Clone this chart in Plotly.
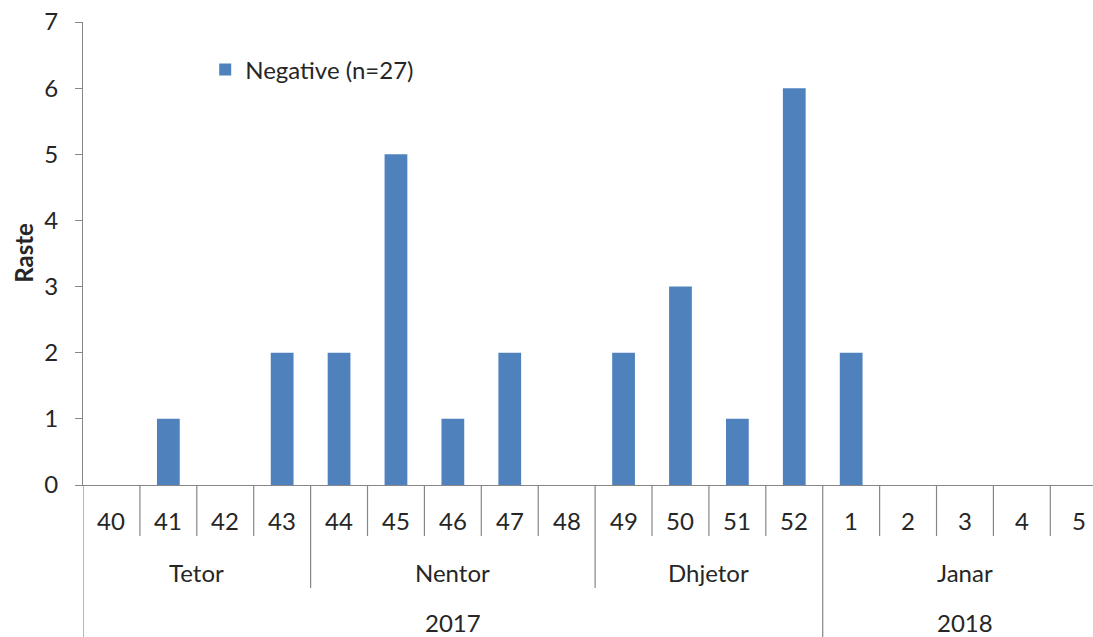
import plotly.graph_objects as go

# ---- data ----
weeks = ["40", "41", "42", "43", "44", "45", "46", "47", "48",
         "49", "50", "51", "52", "1", "2", "3", "4", "5"]
negative = [0, 1, 0, 2, 2, 5, 1, 2, 0, 2, 3, 1, 6, 2, 0, 0, 0, 0]
months = ["Tetor", "Nentor", "Dhjetor", "Janar"]
month_counts = [4, 5, 4, 5]
years = ["2017", "2018"]
year_counts = [13, 5]
series_name = "Negative (n=27)"
y_title = "Raste"

# ---- style ----
FONT = "Lato, 'Open Sans', sans-serif"
TXT = "#262626"
GRID = "#868686"
BAR = "#4F81BD"
FS = 24

W, H = 1093, 637
L, R, T, B = 83, 0, 22, 152
plot_h = H - T - B


def py(pixel_y):
    """convert pixel y (from top) to paper coordinate"""
    return (H - B - pixel_y) / plot_h


x_idx = list(range(len(weeks)))

fig = go.Figure()
fig.add_trace(go.Bar(
    x=x_idx, y=negative, name=series_name,
    marker=dict(color=BAR, line=dict(width=0)),
    width=0.40, showlegend=True,
))

shapes = []
annotations = []

# group boundaries
month_bounds = []
acc = 0
for c in month_counts:
    acc += c
    month_bounds.append(acc - 0.5)
year_bounds = []
acc = 0
for c in year_counts:
    acc += c
    year_bounds.append(acc - 0.5)

line_style = dict(color=GRID, width=1.2)

# week separators
for i in range(len(weeks) - 1):
    b = i + 0.5
    if b in year_bounds:
        y1 = py(H)
    elif b in month_bounds:
        y1 = py(588)
    else:
        y1 = py(536)
    shapes.append(dict(type="line", xref="x", yref="paper", x0=b, x1=b,
                       y0=0, y1=y1, line=line_style))
# left axis extension
shapes.append(dict(type="line", xref="x", yref="paper", x0=-0.5, x1=-0.5,
                   y0=0, y1=py(H), line=line_style))

# week labels
for i, w in enumerate(weeks):
    annotations.append(dict(x=i, y=py(520), xref="x", yref="paper", text=w,
                            showarrow=False, yanchor="middle",
                            font=dict(family=FONT, size=FS, color=TXT)))
# month labels
start = -0.5
for name, c in zip(months, month_counts):
    annotations.append(dict(x=start + c / 2, y=py(572), xref="x", yref="paper",
                            text=name, showarrow=False, yanchor="middle",
                            font=dict(family=FONT, size=FS, color=TXT)))
    start += c
# year labels
start = -0.5
for name, c in zip(years, year_counts):
    annotations.append(dict(x=start + c / 2, y=py(622), xref="x", yref="paper",
                            text=name, showarrow=False, yanchor="middle",
                            font=dict(family=FONT, size=FS, color=TXT)))
    start += c

# y title
annotations.append(dict(x=(22.7 - L) / (W - L - R), y=py(253), xref="paper",
                        yref="paper", text="<b>" + y_title + "</b>",
                        textangle=-90, showarrow=False, xanchor="center",
                        yanchor="middle",
                        font=dict(family=FONT, size=FS, color=TXT)))

fig.update_layout(
    width=W, height=H,
    margin=dict(l=L, r=R, t=T, b=B, pad=0),
    paper_bgcolor="white", plot_bgcolor="white",
    font=dict(family=FONT, size=FS, color=TXT),
    shapes=shapes, annotations=annotations,
    bargap=0.6,
    legend=dict(x=0.121, y=py(70), xanchor="left", yanchor="middle",
                bgcolor="rgba(0,0,0,0)", font=dict(family=FONT, size=FS, color=TXT),
                itemclick=False),
    xaxis=dict(range=[-0.5, 17.25], showticklabels=False, ticks="",
               showgrid=False, zeroline=False, showline=True,
               linecolor=GRID, linewidth=1.2, fixedrange=True),
    yaxis=dict(range=[0, 7], dtick=1, ticks="outside", ticklen=7,
               tickcolor=GRID, tickwidth=1.2, showgrid=False, zeroline=False,
               showline=True, linecolor=GRID, linewidth=1.2,
               tickfont=dict(family=FONT, size=FS, color=TXT),
               ticklabelstandoff=12, fixedrange=True),
)

fig.write_html(
    "out.html",
    config={"displayModeBar": False},
    post_script="document.body.style.margin='0';document.body.style.overflow='hidden';",
)
